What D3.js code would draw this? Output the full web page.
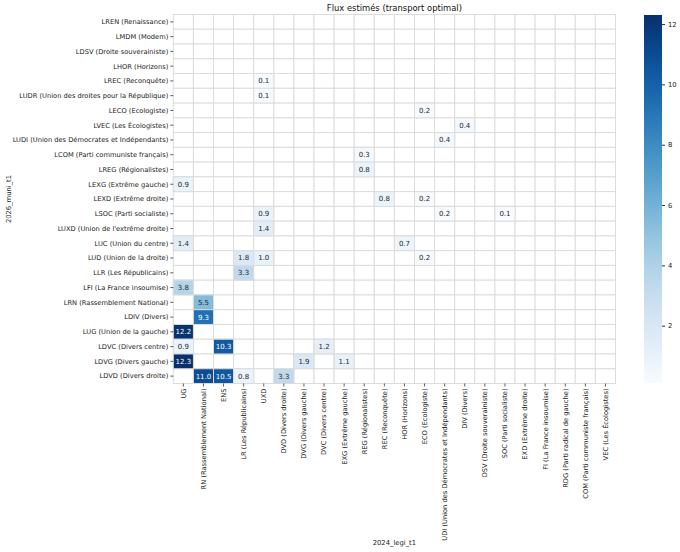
<!DOCTYPE html>
<html><head><meta charset="utf-8">
<script src="https://cdn.jsdelivr.net/npm/d3@7"></script>
<style>body{margin:0;background:#fff;} svg{font-family:"DejaVu Sans",sans-serif;}</style>
</head><body><svg id="c" width="680" height="552"></svg>
<script>
const rows = ["LREN (Renaissance)","LMDM (Modem)","LDSV (Droite souverainiste)","LHOR (Horizons)","LREC (Reconquête)","LUDR (Union des droites pour la République)","LECO (Ecologiste)","LVEC (Les Écologistes)","LUDI (Union des Démocrates et Indépendants)","LCOM (Parti communiste français)","LREG (Régionalistes)","LEXG (Extrême gauche)","LEXD (Extrême droite)","LSOC (Parti socialiste)","LUXD (Union de l'extrême droite)","LUC (Union du centre)","LUD (Union de la droite)","LLR (Les Républicains)","LFI (La France insoumise)","LRN (Rassemblement National)","LDIV (Divers)","LUG (Union de la gauche)","LDVC (Divers centre)","LDVG (Divers gauche)","LDVD (Divers droite)"];
const cols = ["UG","RN (Rassemblement National)","ENS","LR (Les Républicains)","UXD","DVD (Divers droite)","DVG (Divers gauche)","DVC (Divers centre)","EXG (Extrême gauche)","REG (Régionalistes)","REC (Reconquête)","HOR (Horizons)","ECO (Ecologiste)","UDI (Union des Démocrates et Indépendants)","DIV (Divers)","DSV (Droite souverainiste)","SOC (Parti socialiste)","EXD (Extrême droite)","FI (La France insoumise)","RDG (Parti radical de gauche)","COM (Parti communiste français)","VEC (Les Écologistes)"];
// [row code, col code, value]
const flowRow = ["LREC","LUDR","LECO","LVEC","LUDI","LCOM","LREG","LEXG","LEXD","LEXD","LSOC","LSOC","LSOC","LUXD","LUC","LUC","LUD","LUD","LUD","LLR","LFI","LRN","LDIV","LUG","LDVC","LDVC","LDVC","LDVG","LDVG","LDVG","LDVD","LDVD","LDVD","LDVD"];
const flowCol = ["UXD","UXD","ECO","DIV","UDI","REG","REG","UG","REC","ECO","UXD","UDI","SOC","UXD","UG","HOR","LR","UXD","ECO","LR","UG","RN","RN","UG","UG","ENS","DVC","UG","DVG","EXG","RN","ENS","LR","DVD"];
const flowVal = [0.1,0.1,0.2,0.4,0.4,0.3,0.8,0.9,0.8,0.2,0.9,0.2,0.1,1.4,1.4,0.7,1.8,1.0,0.2,3.3,3.8,5.5,9.3,12.2,0.9,10.3,1.2,12.3,1.9,1.1,11.0,10.5,0.8,3.3];
const cbTicks = [2,4,6,8,10,12];

const svg = d3.select("#c");
const L=173.3, R=615.5, T=14.5, B=383.5;
const code = s => s.split(" ")[0];
const x = d3.scaleBand().domain(cols.map(code)).range([L,R]);
const y = d3.scaleBand().domain(rows.map(code)).range([T,B]);
const vmin = d3.min(flowVal), vmax = d3.max(flowVal);
const color = d3.scaleSequential(d3.interpolateBlues).domain([vmin,vmax]);

const g = svg.append("g");
rows.forEach(r=>cols.forEach(c=>{
  g.append("rect").attr("x",x(code(c))).attr("y",y(code(r))).attr("width",x.bandwidth()).attr("height",y.bandwidth())
   .attr("fill","#fff").attr("stroke","#dcdcdc").attr("stroke-width",1);
}));
const data = flowVal.map((v,i)=>({r:flowRow[i],c:flowCol[i],v}));
function lum(c){const o=d3.rgb(c);const f=u=>{u/=255;return u<=0.03928?u/12.92:Math.pow((u+0.055)/1.055,2.4);};return 0.2126*f(o.r)+0.7152*f(o.g)+0.0722*f(o.b);}
data.forEach(d=>{
  const col=color(d.v);
  g.append("rect").attr("x",x(d.c)).attr("y",y(d.r)).attr("width",x.bandwidth()).attr("height",y.bandwidth())
   .attr("fill",col).attr("stroke","#dcdcdc").attr("stroke-width",1);
  g.append("text").attr("x",x(d.c)+x.bandwidth()/2).attr("y",y(d.r)+y.bandwidth()/2).attr("dy","0.35em")
   .attr("text-anchor","middle").attr("font-size",7).attr("fill",lum(col)>0.408?"#262626":"#fff").text(d.v.toFixed(1));
});

const ya = svg.append("g");
rows.forEach(r=>{
  const yy=y(code(r))+y.bandwidth()/2;
  ya.append("line").attr("x1",L-3).attr("x2",L).attr("y1",yy).attr("y2",yy).attr("stroke","#333").attr("stroke-width",0.8);
  ya.append("text").attr("x",L-5).attr("y",yy).attr("dy","0.35em").attr("text-anchor","end").attr("font-size",6.7).attr("fill","#222").text(r);
});
const xa = svg.append("g");
cols.forEach(c=>{
  const xx=x(code(c))+x.bandwidth()/2;
  xa.append("line").attr("x1",xx).attr("x2",xx).attr("y1",B).attr("y2",B+3).attr("stroke","#333").attr("stroke-width",0.8);
  xa.append("text").attr("transform",`translate(${xx},${B+5}) rotate(-90)`).attr("dy","0.35em").attr("text-anchor","end").attr("font-size",6.7).attr("fill","#222").text(c);
});
svg.append("text").attr("x",(L+R)/2).attr("y",10.5).attr("text-anchor","middle").attr("font-size",8.4).attr("fill","#111").text("Flux estimés (transport optimal)");
svg.append("text").attr("x",(L+R)/2).attr("y",545).attr("text-anchor","middle").attr("font-size",6.8).attr("fill","#222").text("2024_legi_t1");
svg.append("text").attr("transform",`translate(11,${(T+B)/2}) rotate(-90)`).attr("text-anchor","middle").attr("font-size",6.8).attr("fill","#222").text("2026_muni_t1");

const cbX=644, cbW=18, cbT=15, cbB=383;
const cy = d3.scaleLinear().domain([vmin,vmax]).range([cbB,cbT]);
const defs=svg.append("defs");
const grad=defs.append("linearGradient").attr("id","gr").attr("x1",0).attr("y1",1).attr("x2",0).attr("y2",0);
d3.range(0,1.0001,0.05).forEach(t=>grad.append("stop").attr("offset",t).attr("stop-color",d3.interpolateBlues(t)));
svg.append("rect").attr("x",cbX).attr("y",cbT).attr("width",cbW).attr("height",cbB-cbT).attr("fill","url(#gr)");
const cba=svg.append("g").attr("transform",`translate(${cbX+cbW},0)`).call(d3.axisRight(cy).tickValues(cbTicks).tickSize(3).tickFormat(d3.format("d")));
cba.select(".domain").remove();
cba.selectAll("text").attr("font-size",6.8).attr("font-family","DejaVu Sans").attr("fill","#222");
cba.selectAll("line").attr("stroke","#333");
</script></body></html>
